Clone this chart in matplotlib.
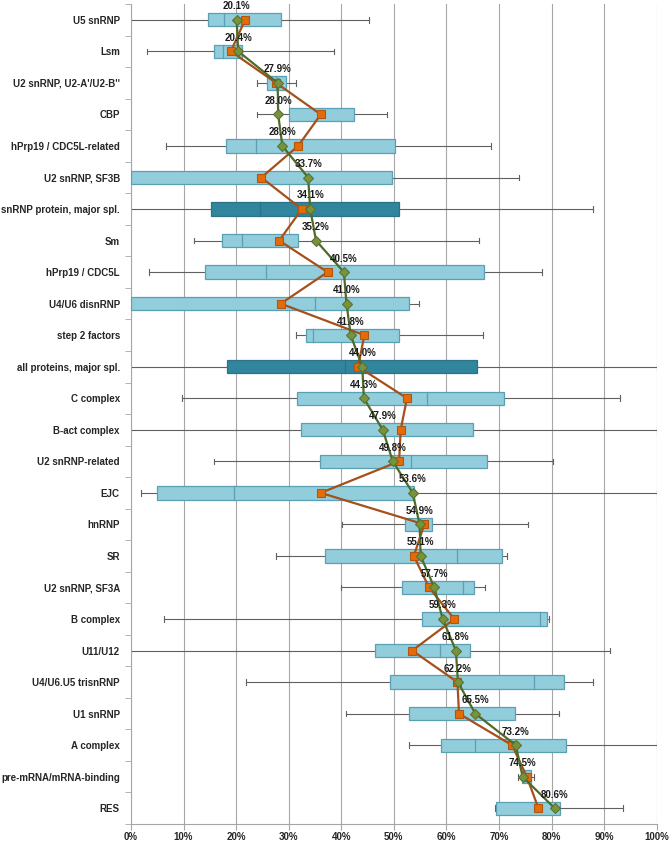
import matplotlib.pyplot as plt
from matplotlib.patches import Rectangle
from matplotlib.ticker import FixedLocator, PercentFormatter

plt.rcParams['font.family'] = ['Liberation Sans', 'DejaVu Sans']

categories = ["U5 snRNP", "Lsm", "U2 snRNP, U2-A'/U2-B''", "CBP", "hPrp19 / CDC5L-related",
              "U2 snRNP, SF3B", "snRNP protein, major spl.", "Sm", "hPrp19 / CDC5L",
              "U4/U6 disnRNP", "step 2 factors", "all proteins, major spl.", "C complex",
              "B-act complex", "U2 snRNP-related", "EJC", "hnRNP", "SR", "U2 snRNP, SF3A",
              "B complex", "U11/U12", "U4/U6.U5 trisnRNP", "U1 snRNP", "A complex",
              "pre-mRNA/mRNA-binding", "RES"]

# whisker min / Q1 / median / Q3 / whisker max (percent)
wmin = [0, 3.1, 24.0, 24.0, 6.6, 0, 0, 11.9, 3.5, 0, 31.4, 0, 9.8,
        0, 15.8, 2.0, 40.1, 27.6, 39.9, 6.3, 0, 21.9, 40.9, 52.8, 73.7, 69.2]
q1 = [14.7, 15.7, 25.8, 30.1, 18.1, 0, 15.2, 17.4, 14.1, 0, 33.2, 18.2, 31.6,
      32.3, 36.0, 5.0, 52.1, 37.0, 51.5, 55.4, 46.5, 49.3, 52.9, 59.0, 74.4, 69.5]
med = [17.7, 17.6, 27.5, None, 23.8, None, 24.5, 21.2, 25.6, 35.1, 34.7, 40.7, 56.4,
       None, 53.3, 19.6, None, 62.1, 63.2, 77.9, 58.8, 76.7, None, 65.5, None, None]
q3 = [28.5, 21.2, 29.4, 42.5, 50.3, 49.7, 51.0, 31.8, 67.2, 52.9, 50.9, 65.9, 71.0,
      65.0, 67.7, 53.9, 57.3, 70.5, 65.3, 79.2, 64.5, 82.3, 73.1, 82.8, 76.0, 81.7]
wmax = [45.3, 38.7, 31.3, 48.7, 68.5, 73.9, 87.8, 66.2, 78.1, 54.8, 67.0, 100, 93.0,
        100, 80.2, 100, 75.5, 71.5, 67.3, 79.5, 91.1, 87.8, 81.4, 100, 76.7, 93.5]
# labelled value (green diamond) and second value (orange square)
green = [20.1, 20.4, 27.9, 28.0, 28.8, 33.7, 34.1, 35.2, 40.5, 41.0, 41.8, 44.0, 44.3,
         47.9, 49.8, 53.6, 54.9, 55.1, 57.7, 59.3, 61.8, 62.2, 65.5, 73.2, 74.5, 80.6]
orange = [21.7, 19.0, 27.6, 36.1, 31.8, 24.8, 32.5, 28.2, 37.4, 28.5, 44.4, 43.2, 52.5,
          51.3, 51.0, 36.1, 55.8, 53.8, 56.7, 61.5, 53.5, 62.1, 62.4, 72.5, 75.3, 77.5]
dark_rows = ["snRNP protein, major spl.", "all proteins, major spl."]

fig = plt.figure(figsize=(6.72, 8.43), dpi=100)
ax = fig.add_axes([0.1949, 0.0225, 0.7823, 0.9727])

n = len(categories)
ys = list(range(n))
h = 0.42

for i, cat in enumerate(categories):
    y = ys[i]
    # whisker
    ax.plot([wmin[i], wmax[i]], [y, y], color='#606060', lw=0.8, zorder=2)
    for v in (wmin[i], wmax[i]):
        if 0 < v <= 100:
            ax.plot([v, v], [y - 0.09, y + 0.09], color='#606060', lw=0.8, zorder=2)
    if cat in dark_rows:
        fc, ec = '#31859c', '#2a7388'
    else:
        fc, ec = '#92cddc', '#5a9fb4'
    ax.add_patch(Rectangle((q1[i], y - h / 2), q3[i] - q1[i], h, facecolor=fc,
                           edgecolor=ec, lw=0.9, zorder=3))
    if med[i] is not None:
        ax.plot([med[i], med[i]], [y - h / 2, y + h / 2], color=ec, lw=0.9, zorder=4)

ax.plot(orange, ys, color='#a5501b', lw=1.6, zorder=5)
ax.plot(orange, ys, ls='none', marker='s', ms=5.8, mfc='#e36c09', mec='#b3550f',
        mew=0.8, zorder=6)
ax.plot(green, ys, color='#4f6b2a', lw=1.6, zorder=7)
ax.plot(green, ys, ls='none', marker='D', ms=5.2, mfc='#77933c', mec='#5a7230',
        mew=0.8, zorder=8)

for i in range(n):
    ax.text(green[i], ys[i] - 0.43, f"{green[i]:.1f}%", ha='center', va='center',
            fontsize=7, fontweight='bold', color='#1a1a1a', zorder=9)

ax.set_xlim(0, 100)
ax.set_ylim(n - 0.5, -0.5)
ax.xaxis.set_major_locator(FixedLocator(range(0, 101, 10)))
ax.xaxis.set_major_formatter(PercentFormatter(decimals=0))
ax.grid(axis='x', color='#a6a6a6', lw=0.8, zorder=0)
ax.set_axisbelow(True)

ax.set_yticks(ys)
ax.set_yticklabels(categories)
ax.yaxis.set_minor_locator(FixedLocator([i - 0.5 for i in range(n + 1)]))
ax.tick_params(axis='y', which='major', length=0, pad=8, labelsize=7, labelcolor='#262626')
ax.tick_params(axis='y', which='minor', length=4, color='#a6a6a6', direction='out')
ax.tick_params(axis='x', length=4, color='#a6a6a6', labelsize=7, labelcolor='#262626', pad=2)
for lab in ax.get_yticklabels() + ax.get_xticklabels():
    lab.set_fontweight('bold')

for s in ('top', 'right'):
    ax.spines[s].set_visible(False)
for s in ('left', 'bottom'):
    ax.spines[s].set_color('#a6a6a6')
    ax.spines[s].set_linewidth(0.8)

fig.savefig('out.png', dpi=100)
